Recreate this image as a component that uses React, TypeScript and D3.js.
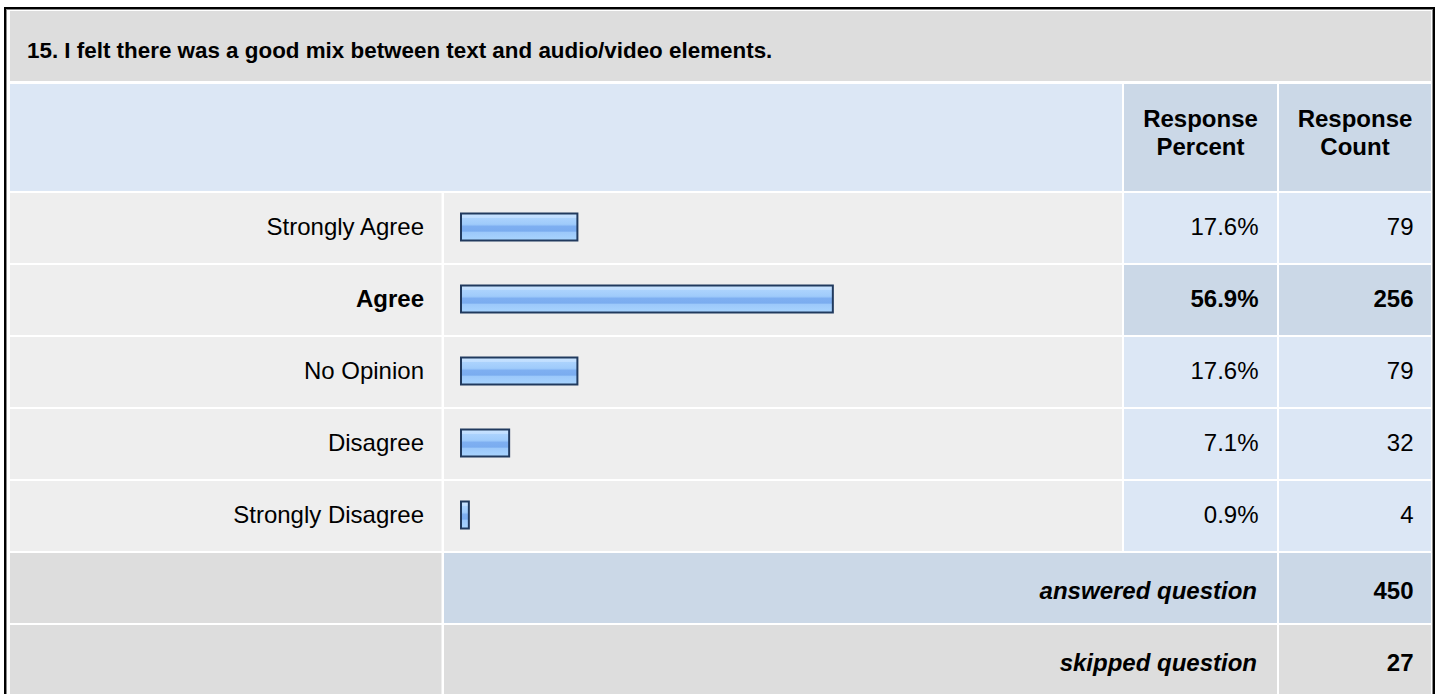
import React from "react";
import * as d3 from "d3";

const title = "15. I felt there was a good mix between text and audio/video elements.";
const categories = ["Strongly Agree", "Agree", "No Opinion", "Disagree", "Strongly Disagree"];
const percents = [17.6, 56.9, 17.6, 7.1, 0.9];
const counts = [79, 256, 79, 32, 4];
const headerPercent = ["Response", "Percent"];
const headerCount = ["Response", "Count"];
const answeredLabel = "answered question";
const answeredCount = 450;
const skippedLabel = "skipped question";
const skippedCount = 27;

const FONT = "'Liberation Sans', Arial, Helvetica, sans-serif";

export default function App() {
  const W = 1440;
  const H = 694;
  // columns
  const c0 = 10, c0e = 441.5;
  const c1 = 444, c1e = 1122;
  const c2 = 1124, c2e = 1277;
  const c3 = 1279, c3e = 1431;

  const rowY = d3
    .scaleBand<string>()
    .domain(categories)
    .range([193, 193 + 72 * categories.length - 2])
    .paddingInner(2 / 72)
    .paddingOuter(0);
  const rh = rowY.bandwidth();
  const x = d3.scaleLinear().domain([0, 100]).range([0, 650]);
  const maxIdx = d3.maxIndex(percents);

  const ansTop = 193 + 72 * categories.length;
  const skipTop = ansTop + 72;

  const gray = "#dddddd";
  const light = "#eeeeee";
  const blueL = "#dce7f5";
  const blueD = "#cbd8e7";

  return (
    <svg
      width={W}
      height={H}
      style={{ position: "absolute", left: 0, top: 0, background: "#fff" }}
      fontFamily={FONT}
    >
      <defs>
        <linearGradient id="barGrad" x1="0" y1="0" x2="0" y2="1">
          <stop offset="0%" stopColor="#c9e4ff" />
          <stop offset="15%" stopColor="#c0deff" />
          <stop offset="16%" stopColor="#acd3fd" />
          <stop offset="40%" stopColor="#9fcbfb" />
          <stop offset="48%" stopColor="#7eaff1" />
          <stop offset="66%" stopColor="#7aacef" />
          <stop offset="68%" stopColor="#9bc8fa" />
          <stop offset="100%" stopColor="#a9d4fe" />
        </linearGradient>
      </defs>
      <rect x={0} y={0} width={W} height={H} fill="#fff" />
      {/* outer frame */}
      <rect x={5} y={8} width={1429} height={720} fill="none" stroke="#000" strokeWidth={2} />
      <rect x={6.5} y={9.5} width={1426} height={720} fill="none" stroke="#888" strokeWidth={1} />

      {/* title */}
      <rect x={c0} y={11} width={c3e - c0} height={70} fill={gray} />
      <text x={27} y={57.5} fontSize={22.4} fontWeight="bold" fill="#000">
        {title}
      </text>

      {/* header */}
      <rect x={c0} y={84} width={c1e - c0} height={107} fill={blueL} />
      <rect x={c2} y={84} width={c2e - c2} height={107} fill={blueD} />
      <rect x={c3} y={84} width={c3e - c3} height={107} fill={blueD} />
      {headerPercent.map((t, i) => (
        <text key={"hp" + i} x={(c2 + c2e) / 2} y={127 + i * 28.3} textAnchor="middle" fontSize={24} fontWeight="bold" fill="#000">
          {t}
        </text>
      ))}
      {headerCount.map((t, i) => (
        <text key={"hc" + i} x={(c3 + c3e) / 2} y={127 + i * 28.3} textAnchor="middle" fontSize={24} fontWeight="bold" fill="#000">
          {t}
        </text>
      ))}

      {/* data rows */}
      {categories.map((c, i) => {
        const y0 = rowY(c)!;
        const hi = i === maxIdx;
        const fw = hi ? "bold" : "normal";
        const by = y0 + 19.5;
        const bh = 29;
        return (
          <g key={c}>
            <rect x={c0} y={y0} width={c0e - c0} height={rh} fill={light} />
            <rect x={c1} y={y0} width={c1e - c1} height={rh} fill={light} />
            <rect x={c2} y={y0} width={c2e - c2} height={rh} fill={hi ? blueD : blueL} />
            <rect x={c3} y={y0} width={c3e - c3} height={rh} fill={hi ? blueD : blueL} />
            <text x={424} y={y0 + 42} textAnchor="end" fontSize={24} fontWeight={fw} fill="#000">
              {c}
            </text>
            <rect
              x={461}
              y={by + 1}
              width={x(percents[i]) + 2}
              height={bh - 2}
              fill="url(#barGrad)"
              stroke="#213a5e"
              strokeWidth={2}
            />
            <text x={1258.5} y={y0 + 42} textAnchor="end" fontSize={24} fontWeight={fw} fill="#000">
              {percents[i].toFixed(1) + "%"}
            </text>
            <text x={1413.5} y={y0 + 42} textAnchor="end" fontSize={24} fontWeight={fw} fill="#000">
              {counts[i]}
            </text>
          </g>
        );
      })}

      {/* answered */}
      <rect x={c0} y={ansTop} width={c0e - c0} height={70} fill={gray} />
      <rect x={c1} y={ansTop} width={c2e - c1} height={70} fill={blueD} />
      <rect x={c3} y={ansTop} width={c3e - c3} height={70} fill={blueD} />
      <text x={1257} y={ansTop + 45.5} textAnchor="end" fontSize={24} fontWeight="bold" fontStyle="italic" fill="#000">
        {answeredLabel}
      </text>
      <text x={1413.5} y={ansTop + 45.5} textAnchor="end" fontSize={24} fontWeight="bold" fill="#000">
        {answeredCount}
      </text>

      {/* skipped */}
      <rect x={c0} y={skipTop} width={c0e - c0} height={80} fill={gray} />
      <rect x={c1} y={skipTop} width={c2e - c1} height={80} fill={gray} />
      <rect x={c3} y={skipTop} width={c3e - c3} height={80} fill={gray} />
      <text x={1257} y={skipTop + 45.5} textAnchor="end" fontSize={24} fontWeight="bold" fontStyle="italic" fill="#000">
        {skippedLabel}
      </text>
      <text x={1413.5} y={skipTop + 45.5} textAnchor="end" fontSize={24} fontWeight="bold" fill="#000">
        {skippedCount}
      </text>
    </svg>
  );
}
